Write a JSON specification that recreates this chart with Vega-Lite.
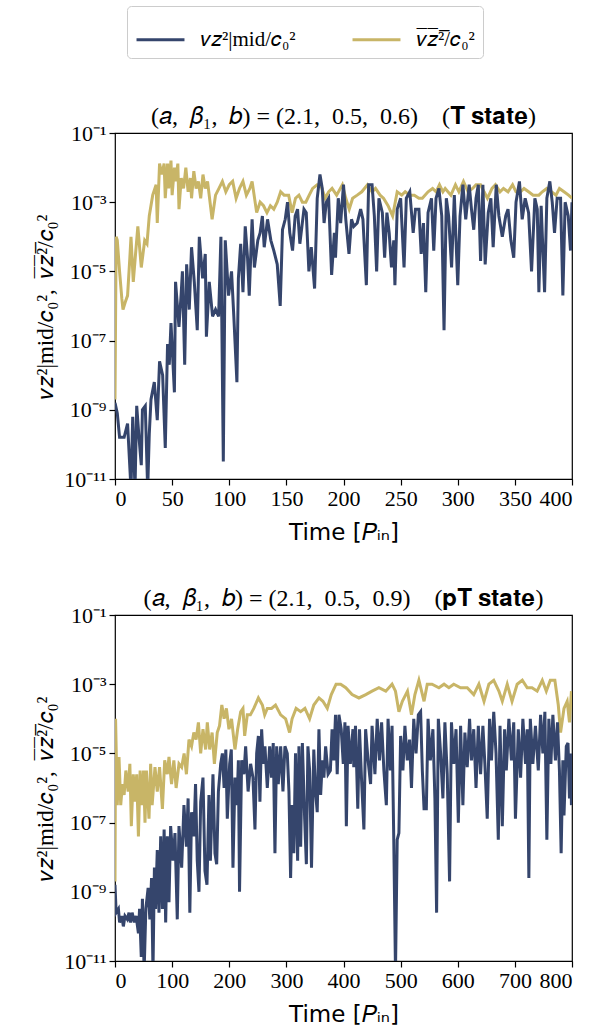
{
  "$schema": "https://vega.github.io/schema/vega-lite/v6.json",
  "background": "white",
  "padding": {"left": 34, "top": 5, "right": 5, "bottom": 5},
  "config": {
    "view": {"stroke": "#000000", "strokeWidth": 1.2},
    "axis": {
      "grid": false, "domain": false,
      "labelFont": "Liberation Serif", "labelFontSize": 22, "labelColor": "#000000",
      "tickColor": "#000000", "tickSize": 6, "tickWidth": 1.2, "labelPadding": 3,
      "titleFont": "Liberation Serif", "titleFontSize": 21, "titleFontWeight": "normal", "titleColor": "#000000"
    },
    "title": {"font": "Liberation Serif", "fontSize": 24, "fontWeight": "normal", "color": "#000000", "offset": -7}
  },
  "datasets": {
    "T": [
      {"t":0,"s":"a","v":2e-9},{"t":1,"s":"a","v":1e-4},{"t":2,"s":"a","v":7.9e-5},{"t":4,"s":"a","v":1e-5},{"t":6,"s":"a","v":1.6e-6},{"t":7,"s":"a","v":7.9e-7},{"t":9,"s":"a","v":1.3e-6},{"t":11,"s":"a","v":2e-6},{"t":13,"s":"a","v":2.5e-5},{"t":14,"s":"a","v":1e-4},{"t":16,"s":"a","v":5e-6},{"t":18,"s":"a","v":3.2e-5},{"t":20,"s":"a","v":2e-4},{"t":23,"s":"a","v":1.3e-5},{"t":26,"s":"a","v":7.9e-5},{"t":28,"s":"a","v":6.3e-5},{"t":30,"s":"a","v":4e-4},{"t":33,"s":"a","v":1.6e-3},{"t":36,"s":"a","v":3.2e-3},{"t":37,"s":"a","v":2.5e-4},{"t":39,"s":"a","v":1.3e-2},{"t":41,"s":"a","v":6.3e-3},{"t":43,"s":"a","v":1.3e-2},{"t":44,"s":"a","v":1.3e-3},{"t":46,"s":"a","v":1.3e-2},{"t":47,"s":"a","v":2.5e-3},{"t":49,"s":"a","v":1.6e-2},{"t":50,"s":"a","v":1.6e-3},{"t":52,"s":"a","v":1e-2},{"t":53,"s":"a","v":4e-3},{"t":55,"s":"a","v":1.3e-2},{"t":56,"s":"a","v":6.3e-4},{"t":58,"s":"a","v":5e-3},{"t":60,"s":"a","v":2.5e-3},{"t":62,"s":"a","v":1e-2},{"t":64,"s":"a","v":2e-3},{"t":66,"s":"a","v":5e-3},{"t":67,"s":"a","v":1.3e-3},{"t":69,"s":"a","v":7.9e-3},{"t":71,"s":"a","v":2.5e-3},{"t":73,"s":"a","v":4e-3},{"t":75,"s":"a","v":1.3e-3},{"t":77,"s":"a","v":6.3e-3},{"t":79,"s":"a","v":2.5e-3},{"t":81,"s":"a","v":4e-3},{"t":85,"s":"a","v":3.2e-4},{"t":88,"s":"a","v":1.6e-3},{"t":91,"s":"a","v":2.5e-3},{"t":94,"s":"a","v":4e-3},{"t":97,"s":"a","v":2e-3},{"t":100,"s":"a","v":3.2e-3},{"t":103,"s":"a","v":4e-3},{"t":106,"s":"a","v":1.3e-3},{"t":109,"s":"a","v":2.5e-3},{"t":112,"s":"a","v":4e-3},{"t":115,"s":"a","v":1.6e-3},{"t":118,"s":"a","v":2.5e-3},{"t":120,"s":"a","v":4e-3},{"t":124,"s":"a","v":5e-4},{"t":127,"s":"a","v":1e-3},{"t":130,"s":"a","v":7.9e-4},{"t":133,"s":"a","v":5e-4},{"t":136,"s":"a","v":7.9e-4},{"t":139,"s":"a","v":6.3e-4},{"t":142,"s":"a","v":1e-3},{"t":145,"s":"a","v":2e-3},{"t":148,"s":"a","v":1.6e-3},{"t":152,"s":"a","v":1.6e-3},{"t":155,"s":"a","v":5e-4},{"t":158,"s":"a","v":1.3e-3},{"t":161,"s":"a","v":1.6e-3},{"t":164,"s":"a","v":1e-3},{"t":167,"s":"a","v":1e-3},{"t":170,"s":"a","v":1.6e-3},{"t":173,"s":"a","v":2.5e-3},{"t":177,"s":"a","v":3.2e-3},{"t":180,"s":"a","v":3.2e-3},{"t":184,"s":"a","v":1.3e-3},{"t":187,"s":"a","v":2e-3},{"t":190,"s":"a","v":2.5e-3},{"t":194,"s":"a","v":1.6e-3},{"t":199,"s":"a","v":3.2e-3},{"t":202,"s":"a","v":1.3e-3},{"t":205,"s":"a","v":6.3e-4},{"t":208,"s":"a","v":1.3e-3},{"t":212,"s":"a","v":1.6e-3},{"t":216,"s":"a","v":2e-3},{"t":221,"s":"a","v":3.2e-3},{"t":225,"s":"a","v":2e-3},{"t":228,"s":"a","v":2.5e-3},{"t":232,"s":"a","v":1.6e-3},{"t":235,"s":"a","v":1.3e-3},{"t":239,"s":"a","v":7.9e-4},{"t":243,"s":"a","v":4e-4},{"t":247,"s":"a","v":2e-3},{"t":251,"s":"a","v":1.6e-3},{"t":254,"s":"a","v":2e-3},{"t":258,"s":"a","v":1.6e-3},{"t":262,"s":"a","v":1.6e-3},{"t":266,"s":"a","v":1.3e-3},{"t":269,"s":"a","v":1.3e-3},{"t":274,"s":"a","v":2e-3},{"t":278,"s":"a","v":2.5e-3},{"t":281,"s":"a","v":2e-3},{"t":284,"s":"a","v":3.2e-3},{"t":287,"s":"a","v":2e-3},{"t":289,"s":"a","v":2.5e-3},{"t":294,"s":"a","v":1.6e-3},{"t":298,"s":"a","v":3.2e-3},{"t":301,"s":"a","v":2e-3},{"t":305,"s":"a","v":4e-3},{"t":309,"s":"a","v":2e-3},{"t":313,"s":"a","v":2.5e-3},{"t":316,"s":"a","v":3.2e-3},{"t":320,"s":"a","v":3.2e-3},{"t":323,"s":"a","v":2e-3},{"t":326,"s":"a","v":1.3e-3},{"t":330,"s":"a","v":2.5e-3},{"t":333,"s":"a","v":3.2e-3},{"t":337,"s":"a","v":2e-3},{"t":340,"s":"a","v":2.5e-3},{"t":344,"s":"a","v":2e-3},{"t":348,"s":"a","v":3.2e-3},{"t":351,"s":"a","v":2e-3},{"t":355,"s":"a","v":2e-3},{"t":358,"s":"a","v":2.5e-3},{"t":362,"s":"a","v":2e-3},{"t":366,"s":"a","v":1.6e-3},{"t":371,"s":"a","v":1.6e-3},{"t":374,"s":"a","v":2e-3},{"t":378,"s":"a","v":2.5e-3},{"t":382,"s":"a","v":2e-3},{"t":386,"s":"a","v":1.6e-3},{"t":389,"s":"a","v":2.5e-3},{"t":393,"s":"a","v":2e-3},{"t":397,"s":"a","v":1.6e-3},{"t":400,"s":"a","v":1.3e-3},
      {"t":0,"s":"m","v":1.6e-9},{"t":2,"s":"m","v":7.9e-10},{"t":4,"s":"m","v":1.6e-10},{"t":8,"s":"m","v":1.6e-10},{"t":11,"s":"m","v":4e-10},{"t":14,"s":"m","v":5e-12},{"t":15.5,"s":"m","v":6.3e-10},{"t":17.5,"s":"m","v":5e-12},{"t":19,"s":"m","v":1.3e-9},{"t":21,"s":"m","v":1.6e-10},{"t":23,"s":"m","v":2.5e-11},{"t":24,"s":"m","v":1e-9},{"t":26.5,"s":"m","v":1.3e-9},{"t":28.6,"s":"m","v":5e-12},{"t":30,"s":"m","v":2e-10},{"t":31.5,"s":"m","v":2e-9},{"t":34.4,"s":"m","v":6.3e-9},{"t":37,"s":"m","v":5e-10},{"t":39,"s":"m","v":2.5e-8},{"t":41.7,"s":"m","v":1e-8},{"t":44,"s":"m","v":7.9e-11},{"t":46,"s":"m","v":7.9e-8},{"t":47.5,"s":"m","v":2e-8},{"t":49,"s":"m","v":3.2e-7},{"t":52,"s":"m","v":3.2e-9},{"t":53,"s":"m","v":5e-6},{"t":56,"s":"m","v":2.5e-7},{"t":58,"s":"m","v":2.5e-6},{"t":59,"s":"m","v":1e-5},{"t":61,"s":"m","v":2e-8},{"t":62.7,"s":"m","v":1.6e-5},{"t":65,"s":"m","v":7.9e-7},{"t":67,"s":"m","v":5e-5},{"t":69.4,"s":"m","v":5e-6},{"t":72,"s":"m","v":2e-7},{"t":73.8,"s":"m","v":1e-4},{"t":76.7,"s":"m","v":6.3e-6},{"t":79,"s":"m","v":3.2e-5},{"t":80,"s":"m","v":1.3e-7},{"t":82.5,"s":"m","v":5e-6},{"t":85.4,"s":"m","v":5e-7},{"t":88,"s":"m","v":7.9e-7},{"t":90.7,"s":"m","v":5e-7},{"t":92.7,"s":"m","v":1e-4},{"t":94.8,"s":"m","v":3.2e-11},{"t":96.5,"s":"m","v":7.9e-5},{"t":99.4,"s":"m","v":2e-6},{"t":102,"s":"m","v":1e-5},{"t":104,"s":"m","v":5e-7},{"t":106.7,"s":"m","v":6.3e-9},{"t":108,"s":"m","v":6.3e-6},{"t":110,"s":"m","v":6.3e-5},{"t":112,"s":"m","v":2.5e-6},{"t":114,"s":"m","v":2e-4},{"t":116,"s":"m","v":2.5e-5},{"t":117.5,"s":"m","v":2e-6},{"t":120,"s":"m","v":3.2e-4},{"t":122,"s":"m","v":1.3e-5},{"t":125,"s":"m","v":7.9e-5},{"t":127,"s":"m","v":1.3e-4},{"t":129,"s":"m","v":4e-4},{"t":130.6,"s":"m","v":5e-5},{"t":133.5,"s":"m","v":3.2e-4},{"t":136.4,"s":"m","v":7.9e-5},{"t":139,"s":"m","v":4e-5},{"t":142,"s":"m","v":1.6e-5},{"t":144.6,"s":"m","v":1e-6},{"t":146.6,"s":"m","v":1.6e-4},{"t":149,"s":"m","v":3.2e-4},{"t":151,"s":"m","v":1e-3},{"t":153,"s":"m","v":1.3e-4},{"t":155.4,"s":"m","v":4e-5},{"t":157.7,"s":"m","v":4e-4},{"t":159.8,"s":"m","v":6.3e-4},{"t":161.8,"s":"m","v":6.3e-5},{"t":165.4,"s":"m","v":6.3e-4},{"t":167.4,"s":"m","v":5e-4},{"t":169.7,"s":"m","v":1e-5},{"t":171.8,"s":"m","v":5e-5},{"t":174.7,"s":"m","v":3.2e-6},{"t":177,"s":"m","v":1.3e-3},{"t":179.4,"s":"m","v":6.3e-3},{"t":181.4,"s":"m","v":2.5e-3},{"t":183,"s":"m","v":2.5e-4},{"t":185,"s":"m","v":1e-3},{"t":187,"s":"m","v":1.3e-3},{"t":189.6,"s":"m","v":7.9e-6},{"t":192,"s":"m","v":1.3e-4},{"t":193,"s":"m","v":2.5e-5},{"t":195.4,"s":"m","v":1.3e-3},{"t":197.5,"s":"m","v":2.5e-4},{"t":200,"s":"m","v":3.2e-3},{"t":202,"s":"m","v":3.2e-4},{"t":204.8,"s":"m","v":3.2e-5},{"t":207,"s":"m","v":3.2e-4},{"t":209,"s":"m","v":2e-4},{"t":212,"s":"m","v":2.5e-4},{"t":215,"s":"m","v":6.3e-4},{"t":217,"s":"m","v":3.2e-4},{"t":220,"s":"m","v":4e-6},{"t":222,"s":"m","v":3.2e-3},{"t":225,"s":"m","v":3.2e-3},{"t":227,"s":"m","v":4e-4},{"t":229,"s":"m","v":1e-5},{"t":231,"s":"m","v":1.3e-3},{"t":234,"s":"m","v":5e-4},{"t":236,"s":"m","v":2.5e-5},{"t":238,"s":"m","v":5e-4},{"t":240,"s":"m","v":1.3e-4},{"t":242,"s":"m","v":1.3e-5},{"t":244,"s":"m","v":7.9e-5},{"t":245,"s":"m","v":4e-6},{"t":247,"s":"m","v":6.3e-4},{"t":250,"s":"m","v":1.3e-3},{"t":253,"s":"m","v":1.3e-5},{"t":255,"s":"m","v":1.3e-3},{"t":258,"s":"m","v":2e-3},{"t":261,"s":"m","v":1.3e-4},{"t":263,"s":"m","v":6.3e-4},{"t":266,"s":"m","v":6.3e-4},{"t":268,"s":"m","v":3.2e-5},{"t":270,"s":"m","v":2.5e-4},{"t":272,"s":"m","v":2.5e-6},{"t":274,"s":"m","v":5e-4},{"t":277,"s":"m","v":1.3e-3},{"t":279,"s":"m","v":4e-5},{"t":281,"s":"m","v":1.3e-3},{"t":283.5,"s":"m","v":2.5e-3},{"t":286,"s":"m","v":4e-4},{"t":288,"s":"m","v":2e-7},{"t":290,"s":"m","v":1.3e-3},{"t":292,"s":"m","v":4e-4},{"t":294.6,"s":"m","v":1.3e-5},{"t":297,"s":"m","v":1.6e-3},{"t":300,"s":"m","v":4e-6},{"t":302,"s":"m","v":4e-4},{"t":304.5,"s":"m","v":3.2e-3},{"t":307,"s":"m","v":3.2e-4},{"t":310,"s":"m","v":3.2e-3},{"t":312,"s":"m","v":6.3e-4},{"t":314,"s":"m","v":1.6e-4},{"t":316,"s":"m","v":1.3e-3},{"t":318,"s":"m","v":3.2e-3},{"t":320,"s":"m","v":2e-5},{"t":322,"s":"m","v":3.2e-3},{"t":324,"s":"m","v":1.6e-5},{"t":326.7,"s":"m","v":5e-4},{"t":329,"s":"m","v":1.3e-3},{"t":331,"s":"m","v":5e-5},{"t":333.7,"s":"m","v":3.2e-3},{"t":336,"s":"m","v":4e-4},{"t":339,"s":"m","v":1e-4},{"t":342,"s":"m","v":4e-4},{"t":344,"s":"m","v":6.3e-4},{"t":346.5,"s":"m","v":7.9e-5},{"t":349,"s":"m","v":2.5e-5},{"t":351,"s":"m","v":1e-3},{"t":354,"s":"m","v":4e-3},{"t":356.4,"s":"m","v":3.2e-4},{"t":359,"s":"m","v":1.3e-3},{"t":362,"s":"m","v":5e-4},{"t":364.6,"s":"m","v":1e-5},{"t":367.5,"s":"m","v":1.3e-3},{"t":369.6,"s":"m","v":6.3e-4},{"t":371,"s":"m","v":2.5e-6},{"t":373,"s":"m","v":7.9e-4},{"t":376,"s":"m","v":2.5e-6},{"t":378,"s":"m","v":1.3e-3},{"t":380.6,"s":"m","v":4e-3},{"t":382.7,"s":"m","v":1e-3},{"t":384.7,"s":"m","v":1.3e-4},{"t":387,"s":"m","v":1.3e-3},{"t":390,"s":"m","v":1.3e-3},{"t":392,"s":"m","v":2e-6},{"t":394,"s":"m","v":1e-3},{"t":396.7,"s":"m","v":4e-4},{"t":398.7,"s":"m","v":4e-5},{"t":400,"s":"m","v":1e-3}
    ],
    "pT": [
      {"t":0,"s":"a","v":2e-9},{"t":1,"s":"a","v":1e-4},{"t":4,"s":"a","v":3.2e-7},{"t":7,"s":"a","v":7.9e-6},{"t":10,"s":"a","v":3.2e-7},{"t":13,"s":"a","v":1.3e-6},{"t":16,"s":"a","v":6.3e-7},{"t":19,"s":"a","v":3.2e-6},{"t":23,"s":"a","v":7.9e-7},{"t":26,"s":"a","v":5e-6},{"t":28.6,"s":"a","v":7.9e-8},{"t":32,"s":"a","v":2.5e-6},{"t":35,"s":"a","v":4e-7},{"t":38,"s":"a","v":2.5e-6},{"t":41,"s":"a","v":4e-8},{"t":44,"s":"a","v":3.2e-6},{"t":47,"s":"a","v":3.2e-7},{"t":50,"s":"a","v":3.2e-6},{"t":52.5,"s":"a","v":1e-7},{"t":55,"s":"a","v":3.2e-6},{"t":59.5,"s":"a","v":1.3e-7},{"t":62.4,"s":"a","v":5e-6},{"t":65,"s":"a","v":3.2e-7},{"t":70,"s":"a","v":4e-6},{"t":74,"s":"a","v":7.9e-7},{"t":78,"s":"a","v":4e-6},{"t":83,"s":"a","v":2.5e-7},{"t":87,"s":"a","v":6.3e-6},{"t":91.6,"s":"a","v":2.5e-6},{"t":94.5,"s":"a","v":7.9e-6},{"t":99,"s":"a","v":1.3e-6},{"t":103,"s":"a","v":6.3e-6},{"t":107,"s":"a","v":1e-6},{"t":112,"s":"a","v":5e-6},{"t":116.7,"s":"a","v":4e-6},{"t":121,"s":"a","v":1e-5},{"t":125,"s":"a","v":2.5e-6},{"t":129.5,"s":"a","v":2.5e-5},{"t":134,"s":"a","v":1.6e-5},{"t":138,"s":"a","v":4e-5},{"t":142,"s":"a","v":2.5e-5},{"t":146,"s":"a","v":7.9e-5},{"t":150,"s":"a","v":1e-5},{"t":154,"s":"a","v":5e-5},{"t":158.7,"s":"a","v":1.3e-5},{"t":161.6,"s":"a","v":7.9e-5},{"t":165.7,"s":"a","v":1.3e-5},{"t":170,"s":"a","v":4e-5},{"t":174,"s":"a","v":5e-6},{"t":179,"s":"a","v":4e-5},{"t":183,"s":"a","v":6.3e-5},{"t":187,"s":"a","v":2.5e-4},{"t":191,"s":"a","v":1e-4},{"t":195,"s":"a","v":2e-4},{"t":199.5,"s":"a","v":5e-5},{"t":204,"s":"a","v":1e-4},{"t":210,"s":"a","v":1.3e-5},{"t":214.7,"s":"a","v":5e-5},{"t":220,"s":"a","v":1.6e-4},{"t":224,"s":"a","v":2e-4},{"t":227,"s":"a","v":3.2e-5},{"t":231.6,"s":"a","v":1.3e-4},{"t":237,"s":"a","v":1.3e-4},{"t":243,"s":"a","v":2e-4},{"t":251,"s":"a","v":4e-4},{"t":258,"s":"a","v":2.5e-4},{"t":262,"s":"a","v":1.3e-4},{"t":266.6,"s":"a","v":2e-4},{"t":274,"s":"a","v":2e-4},{"t":281,"s":"a","v":2.5e-4},{"t":290,"s":"a","v":1.3e-4},{"t":298.7,"s":"a","v":1e-4},{"t":305.6,"s":"a","v":4e-5},{"t":310,"s":"a","v":1e-4},{"t":317,"s":"a","v":2e-4},{"t":325,"s":"a","v":1.6e-4},{"t":332.5,"s":"a","v":2e-4},{"t":340.7,"s":"a","v":1e-4},{"t":348,"s":"a","v":2.5e-4},{"t":357,"s":"a","v":4e-4},{"t":364,"s":"a","v":3.2e-4},{"t":371.6,"s":"a","v":2e-4},{"t":378.6,"s":"a","v":5e-4},{"t":387,"s":"a","v":1e-3},{"t":395,"s":"a","v":1e-3},{"t":404,"s":"a","v":7.9e-4},{"t":415,"s":"a","v":5e-4},{"t":427,"s":"a","v":4e-4},{"t":439,"s":"a","v":5e-4},{"t":450,"s":"a","v":6.3e-4},{"t":462,"s":"a","v":7.9e-4},{"t":474,"s":"a","v":6.3e-4},{"t":485,"s":"a","v":1e-3},{"t":491,"s":"a","v":6.3e-4},{"t":497,"s":"a","v":1.6e-4},{"t":503,"s":"a","v":3.2e-4},{"t":512,"s":"a","v":6.3e-4},{"t":519,"s":"a","v":1.3e-4},{"t":525,"s":"a","v":5e-4},{"t":532,"s":"a","v":1.3e-3},{"t":541,"s":"a","v":3.2e-4},{"t":546.6,"s":"a","v":1e-3},{"t":555,"s":"a","v":1e-3},{"t":567,"s":"a","v":7.9e-4},{"t":576,"s":"a","v":1e-3},{"t":584.5,"s":"a","v":7.9e-4},{"t":593,"s":"a","v":1e-3},{"t":605,"s":"a","v":7.9e-4},{"t":616.6,"s":"a","v":7.9e-4},{"t":628,"s":"a","v":5e-4},{"t":637,"s":"a","v":1e-3},{"t":646,"s":"a","v":3.2e-4},{"t":654.5,"s":"a","v":1e-3},{"t":663,"s":"a","v":1.3e-3},{"t":672,"s":"a","v":6.3e-4},{"t":678,"s":"a","v":3.2e-4},{"t":686.6,"s":"a","v":1e-3},{"t":695,"s":"a","v":3.2e-4},{"t":704,"s":"a","v":1e-3},{"t":713,"s":"a","v":1.3e-3},{"t":721.6,"s":"a","v":7.9e-4},{"t":730,"s":"a","v":7.9e-4},{"t":739,"s":"a","v":6.3e-4},{"t":748,"s":"a","v":1.3e-3},{"t":755,"s":"a","v":6.3e-4},{"t":762,"s":"a","v":1.3e-3},{"t":770,"s":"a","v":1.3e-3},{"t":776,"s":"a","v":2.5e-4},{"t":780,"s":"a","v":4e-5},{"t":786,"s":"a","v":2e-4},{"t":791.6,"s":"a","v":3.2e-4},{"t":795.6,"s":"a","v":7.9e-5},{"t":799,"s":"a","v":6.3e-4},
      {"t":0,"s":"m","v":1.6e-9},{"t":2,"s":"m","v":2.5e-10},{"t":6,"s":"m","v":3.2e-10},{"t":8,"s":"m","v":1.3e-10},{"t":12,"s":"m","v":2e-10},{"t":14.6,"s":"m","v":1e-10},{"t":17.5,"s":"m","v":2e-10},{"t":21.6,"s":"m","v":1.6e-10},{"t":24.5,"s":"m","v":2.5e-10},{"t":27.4,"s":"m","v":1.3e-10},{"t":30,"s":"m","v":2.5e-10},{"t":34,"s":"m","v":1.3e-10},{"t":37,"s":"m","v":2e-10},{"t":41,"s":"m","v":6.3e-11},{"t":43,"s":"m","v":3.2e-10},{"t":46,"s":"m","v":1.3e-11},{"t":48,"s":"m","v":6.3e-10},{"t":51,"s":"m","v":5e-12},{"t":54,"s":"m","v":3.2e-10},{"t":58,"s":"m","v":1.3e-9},{"t":61,"s":"m","v":1.6e-10},{"t":64,"s":"m","v":2.5e-9},{"t":66.5,"s":"m","v":5e-12},{"t":69,"s":"m","v":5e-9},{"t":71,"s":"m","v":3.2e-10},{"t":74,"s":"m","v":1.6e-8},{"t":77,"s":"m","v":2.5e-10},{"t":80,"s":"m","v":4e-8},{"t":83,"s":"m","v":3.2e-10},{"t":86,"s":"m","v":6.3e-8},{"t":88.7,"s":"m","v":1.3e-10},{"t":91.6,"s":"m","v":4e-8},{"t":94.5,"s":"m","v":5e-10},{"t":97.4,"s":"m","v":7.9e-8},{"t":101.5,"s":"m","v":7.9e-9},{"t":105,"s":"m","v":5e-8},{"t":109,"s":"m","v":1.6e-10},{"t":112,"s":"m","v":7.9e-8},{"t":116.7,"s":"m","v":5e-9},{"t":120.7,"s":"m","v":3.2e-7},{"t":125,"s":"m","v":2e-8},{"t":128,"s":"m","v":5e-7},{"t":131,"s":"m","v":2.5e-10},{"t":134,"s":"m","v":2e-7},{"t":138,"s":"m","v":4e-8},{"t":141,"s":"m","v":1.3e-6},{"t":144,"s":"m","v":7.9e-9},{"t":147,"s":"m","v":1e-9},{"t":150,"s":"m","v":4e-7},{"t":154,"s":"m","v":2e-6},{"t":157.5,"s":"m","v":4e-9},{"t":161,"s":"m","v":1.6e-9},{"t":164.5,"s":"m","v":6.3e-7},{"t":167,"s":"m","v":7.9e-9},{"t":171.5,"s":"m","v":2.5e-6},{"t":175,"s":"m","v":1.3e-8},{"t":178,"s":"m","v":6.3e-9},{"t":181,"s":"m","v":7.9e-7},{"t":185,"s":"m","v":5e-6},{"t":188,"s":"m","v":1e-5},{"t":191,"s":"m","v":1e-6},{"t":194,"s":"m","v":1.3e-5},{"t":196.6,"s":"m","v":1.3e-7},{"t":200.7,"s":"m","v":5e-6},{"t":203.6,"s":"m","v":1.3e-5},{"t":206.5,"s":"m","v":5e-9},{"t":210,"s":"m","v":2e-6},{"t":213.5,"s":"m","v":3.2e-7},{"t":216,"s":"m","v":6.3e-6},{"t":218,"s":"m","v":1e-9},{"t":221.7,"s":"m","v":6.3e-6},{"t":225.7,"s":"m","v":2.5e-6},{"t":228.7,"s":"m","v":1.6e-5},{"t":233,"s":"m","v":7.9e-7},{"t":237.4,"s":"m","v":5e-6},{"t":241.5,"s":"m","v":2e-6},{"t":245,"s":"m","v":6.3e-8},{"t":248,"s":"m","v":1e-5},{"t":251,"s":"m","v":3.2e-5},{"t":253.7,"s":"m","v":4e-7},{"t":256.7,"s":"m","v":5e-5},{"t":259.6,"s":"m","v":5e-6},{"t":262.5,"s":"m","v":1.6e-5},{"t":266.6,"s":"m","v":1e-6},{"t":270.7,"s":"m","v":1.6e-5},{"t":274,"s":"m","v":2e-6},{"t":277,"s":"m","v":2e-5},{"t":280,"s":"m","v":1.3e-8},{"t":283,"s":"m","v":1.6e-5},{"t":285.8,"s":"m","v":1.3e-6},{"t":290,"s":"m","v":1.6e-5},{"t":294,"s":"m","v":7.9e-7},{"t":297.5,"s":"m","v":1.6e-5},{"t":301.6,"s":"m","v":1e-5},{"t":304.5,"s":"m","v":7.9e-7},{"t":307.4,"s":"m","v":2.5e-9},{"t":310,"s":"m","v":3.2e-7},{"t":313,"s":"m","v":1.3e-8},{"t":316,"s":"m","v":1e-5},{"t":319.7,"s":"m","v":7.9e-9},{"t":322,"s":"m","v":1.6e-5},{"t":325,"s":"m","v":2e-8},{"t":328,"s":"m","v":2e-5},{"t":332,"s":"m","v":1.3e-7},{"t":335,"s":"m","v":6.3e-9},{"t":337.7,"s":"m","v":1.6e-5},{"t":340.7,"s":"m","v":3.2e-6},{"t":344,"s":"m","v":5e-9},{"t":348,"s":"m","v":1.3e-5},{"t":351,"s":"m","v":7.9e-7},{"t":354,"s":"m","v":2e-7},{"t":357,"s":"m","v":5e-5},{"t":360,"s":"m","v":6.3e-7},{"t":363,"s":"m","v":6.3e-6},{"t":365.7,"s":"m","v":2e-6},{"t":368.7,"s":"m","v":1.6e-5},{"t":373,"s":"m","v":2.5e-6},{"t":377,"s":"m","v":3.2e-6},{"t":380,"s":"m","v":5e-5},{"t":383,"s":"m","v":6.3e-6},{"t":386,"s":"m","v":1.3e-4},{"t":389,"s":"m","v":2.5e-6},{"t":392,"s":"m","v":1.3e-4},{"t":396,"s":"m","v":5e-5},{"t":399.6,"s":"m","v":5e-6},{"t":402.5,"s":"m","v":7.9e-5},{"t":405,"s":"m","v":7.9e-8},{"t":408,"s":"m","v":6.3e-5},{"t":412,"s":"m","v":5e-6},{"t":416.5,"s":"m","v":5e-5},{"t":418,"s":"m","v":4e-6},{"t":421,"s":"m","v":6.3e-5},{"t":425,"s":"m","v":2.5e-7},{"t":428,"s":"m","v":5e-5},{"t":431.7,"s":"m","v":1.6e-6},{"t":435.7,"s":"m","v":6.3e-8},{"t":438.7,"s":"m","v":5e-5},{"t":443,"s":"m","v":6.3e-6},{"t":447.4,"s":"m","v":1.3e-6},{"t":450,"s":"m","v":6.3e-5},{"t":455,"s":"m","v":2.5e-6},{"t":459,"s":"m","v":1e-4},{"t":463,"s":"m","v":6.3e-6},{"t":466.7,"s":"m","v":7.9e-5},{"t":470.7,"s":"m","v":3.2e-6},{"t":475,"s":"m","v":3.2e-7},{"t":478,"s":"m","v":1e-4},{"t":482,"s":"m","v":3.2e-6},{"t":485,"s":"m","v":6.3e-5},{"t":488,"s":"m","v":3.2e-8},{"t":491,"s":"m","v":5e-12},{"t":494,"s":"m","v":3.2e-8},{"t":497,"s":"m","v":5e-8},{"t":500,"s":"m","v":3.2e-5},{"t":504,"s":"m","v":3.2e-6},{"t":507.5,"s":"m","v":6.3e-5},{"t":511.6,"s":"m","v":6.3e-6},{"t":515.7,"s":"m","v":2.5e-5},{"t":519,"s":"m","v":1e-6},{"t":523,"s":"m","v":1e-4},{"t":527,"s":"m","v":1e-5},{"t":531,"s":"m","v":1.3e-4},{"t":535,"s":"m","v":1.6e-4},{"t":538,"s":"m","v":3.2e-6},{"t":541,"s":"m","v":2.5e-7},{"t":545,"s":"m","v":2.5e-7},{"t":548,"s":"m","v":1e-4},{"t":552,"s":"m","v":6.3e-6},{"t":556.5,"s":"m","v":5e-5},{"t":560,"s":"m","v":5e-7},{"t":563,"s":"m","v":2.5e-10},{"t":566,"s":"m","v":1e-4},{"t":570,"s":"m","v":1e-5},{"t":574,"s":"m","v":5e-7},{"t":577.5,"s":"m","v":7.9e-5},{"t":581.6,"s":"m","v":2.5e-6},{"t":585.7,"s":"m","v":2e-9},{"t":589,"s":"m","v":7.9e-5},{"t":593,"s":"m","v":5e-6},{"t":597,"s":"m","v":5e-5},{"t":601,"s":"m","v":1e-7},{"t":605,"s":"m","v":6.3e-5},{"t":609,"s":"m","v":3.2e-7},{"t":612.5,"s":"m","v":4e-5},{"t":616.6,"s":"m","v":4e-6},{"t":620.7,"s":"m","v":1e-4},{"t":624,"s":"m","v":6.3e-6},{"t":628,"s":"m","v":5e-5},{"t":632,"s":"m","v":1e-6},{"t":636,"s":"m","v":6.3e-5},{"t":640,"s":"m","v":2.5e-6},{"t":644,"s":"m","v":6.3e-5},{"t":647.5,"s":"m","v":5e-6},{"t":651.6,"s":"m","v":1.3e-7},{"t":655.7,"s":"m","v":1e-4},{"t":659,"s":"m","v":6.3e-6},{"t":663,"s":"m","v":1.6e-4},{"t":667,"s":"m","v":1e-5},{"t":671,"s":"m","v":3.2e-8},{"t":674,"s":"m","v":6.3e-5},{"t":678,"s":"m","v":7.9e-8},{"t":682,"s":"m","v":5e-5},{"t":685,"s":"m","v":3.2e-6},{"t":689.5,"s":"m","v":1e-4},{"t":694,"s":"m","v":6.3e-6},{"t":698,"s":"m","v":7.9e-5},{"t":701,"s":"m","v":1.3e-7},{"t":706,"s":"m","v":5e-5},{"t":710,"s":"m","v":2e-6},{"t":714,"s":"m","v":1e-4},{"t":718.6,"s":"m","v":5e-6},{"t":721.6,"s":"m","v":5e-5},{"t":724.5,"s":"m","v":2.5e-9},{"t":727,"s":"m","v":1e-4},{"t":731.5,"s":"m","v":5e-6},{"t":736,"s":"m","v":6.3e-5},{"t":741,"s":"m","v":3.2e-6},{"t":745,"s":"m","v":1.3e-4},{"t":749,"s":"m","v":1e-5},{"t":752.5,"s":"m","v":1.6e-4},{"t":756,"s":"m","v":3.2e-8},{"t":759.5,"s":"m","v":1e-4},{"t":763,"s":"m","v":5e-6},{"t":766.5,"s":"m","v":1.3e-4},{"t":771,"s":"m","v":6.3e-6},{"t":774.6,"s":"m","v":7.9e-5},{"t":778,"s":"m","v":3.2e-6},{"t":781,"s":"m","v":1.3e-8},{"t":784,"s":"m","v":6.3e-6},{"t":786,"s":"m","v":1.6e-7},{"t":790,"s":"m","v":1.6e-5},{"t":793,"s":"m","v":2e-5},{"t":795.6,"s":"m","v":5e-7},{"t":798,"s":"m","v":1e-5},{"t":799,"s":"m","v":3.2e-7}
    ]
  },
  "spacing": 41,
  "resolve": {"scale": {"x": "independent", "y": "independent", "color": "shared"}, "legend": {"color": "shared"}},
  "vconcat": [
    {
      "title": "(𝑎,\u2002𝛽₁,\u2002𝑏) = (2.1,\u20020.5,\u20020.6)\u2002\u2002(𝐓 𝐬𝐭𝐚𝐭𝐞)",
      "width": 457,
      "height": 346,
      "data": {"name": "T"},
      "encoding": {
        "x": {"field": "t", "type": "quantitative", "scale": {"domain": [0, 400], "nice": false},
          "axis": {"values": [0, 50, 100, 150, 200, 250, 300, 350, 400], "title": "Time [𝑃ᵢₙ]", "titleFont": "DejaVu Sans", "titleFontSize": 23, "titlePadding": 12}},
        "y": {"field": "v", "type": "quantitative", "scale": {"type": "log", "domain": [1e-11, 1e-1], "nice": false},
          "axis": {"values": [1e-11, 1e-9, 1e-7, 1e-5, 1e-3, 1e-1], "title": "𝑣𝑧²|mid/𝑐₀²,\u2002𝑣̅𝑧̅²̅/𝑐₀²", "titleFontSize": 23, "titlePadding": 6,
            "labelExpr": "datum.value < 1e-10 ? '10⁻¹¹' : datum.value < 1e-8 ? '10⁻⁹' : datum.value < 1e-6 ? '10⁻⁷' : datum.value < 1e-4 ? '10⁻⁵' : datum.value < 1e-2 ? '10⁻³' : '10⁻¹'"}},
        "color": {"field": "s", "type": "nominal",
          "scale": {"domain": ["m", "a"], "range": ["#35456c", "#c8b567"]},
          "legend": {"title": null, "orient": "none", "legendX": 12, "legendY": -127, "direction": "horizontal",
            "symbolType": "stroke", "symbolSize": 2300, "symbolStrokeWidth": 3, "labelFont": "Liberation Serif", "labelFontSize": 21,
            "labelOffset": 15, "columnPadding": 50, "padding": 8, "strokeColor": "#cccccc", "cornerRadius": 4, "fillColor": "white",
            "labelExpr": "datum.value == 'm' ? '𝑣𝑧²|mid/𝑐₀²' : '𝑣̅𝑧̅²̅/𝑐₀²'"}}
      },
      "layer": [
        {"transform": [{"filter": "datum.s == 'a'"}], "mark": {"type": "line", "strokeWidth": 3, "clip": true}},
        {"transform": [{"filter": "datum.s == 'm'"}], "mark": {"type": "line", "strokeWidth": 3, "clip": true}}
      ]
    },
    {
      "title": "(𝑎,\u2002𝛽₁,\u2002𝑏) = (2.1,\u20020.5,\u20020.9)\u2002\u2002(𝐩𝐓 𝐬𝐭𝐚𝐭𝐞)",
      "width": 457,
      "height": 346,
      "data": {"name": "pT"},
      "encoding": {
        "x": {"field": "t", "type": "quantitative", "scale": {"domain": [0, 800], "nice": false},
          "axis": {"values": [0, 100, 200, 300, 400, 500, 600, 700, 800], "title": "Time [𝑃ᵢₙ]", "titleFont": "DejaVu Sans", "titleFontSize": 23, "titlePadding": 12}},
        "y": {"field": "v", "type": "quantitative", "scale": {"type": "log", "domain": [1e-11, 1e-1], "nice": false},
          "axis": {"values": [1e-11, 1e-9, 1e-7, 1e-5, 1e-3, 1e-1], "title": "𝑣𝑧²|mid/𝑐₀²,\u2002𝑣̅𝑧̅²̅/𝑐₀²", "titleFontSize": 23, "titlePadding": 6,
            "labelExpr": "datum.value < 1e-10 ? '10⁻¹¹' : datum.value < 1e-8 ? '10⁻⁹' : datum.value < 1e-6 ? '10⁻⁷' : datum.value < 1e-4 ? '10⁻⁵' : datum.value < 1e-2 ? '10⁻³' : '10⁻¹'"}},
        "color": {"field": "s", "type": "nominal",
          "scale": {"domain": ["m", "a"], "range": ["#35456c", "#c8b567"]}}
      },
      "layer": [
        {"transform": [{"filter": "datum.s == 'a'"}], "mark": {"type": "line", "strokeWidth": 3, "clip": true}},
        {"transform": [{"filter": "datum.s == 'm'"}], "mark": {"type": "line", "strokeWidth": 3, "clip": true}}
      ]
    }
  ]
}
